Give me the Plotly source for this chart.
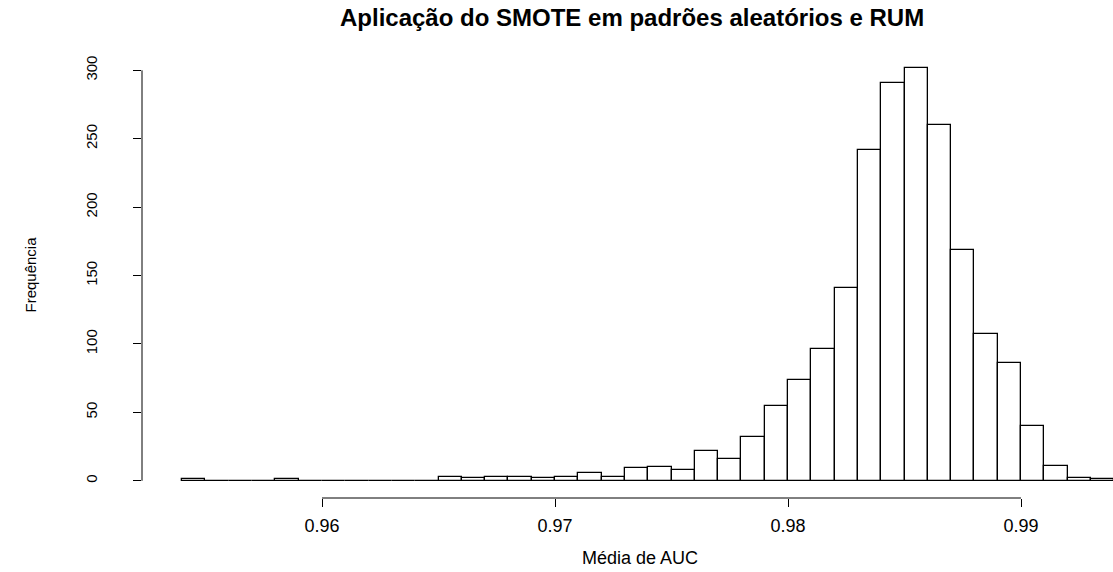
import plotly.graph_objects as go

# ---- data ----
bin_left = [0.954, 0.955, 0.956, 0.957, 0.958, 0.959, 0.960, 0.961, 0.962, 0.963,
            0.964, 0.965, 0.966, 0.967, 0.968, 0.969, 0.970, 0.971, 0.972, 0.973,
            0.974, 0.975, 0.976, 0.977, 0.978, 0.979, 0.980, 0.981, 0.982, 0.983,
            0.984, 0.985, 0.986, 0.987, 0.988, 0.989, 0.990, 0.991, 0.992, 0.993]
counts = [1, 0, 0, 0, 1, 0, 0, 0, 0, 0,
          0, 3, 2, 3, 3, 2, 3, 6, 3, 9,
          10, 8, 22, 16, 32, 55, 74, 96, 141, 242,
          291, 302, 260, 169, 107, 86, 40, 11, 2, 1]
bin_width = 0.001
x_ticks = [0.96, 0.97, 0.98, 0.99]
x_tick_text = ["0.96", "0.97", "0.98", "0.99"]
y_ticks = [0, 50, 100, 150, 200, 250, 300]
y_tick_text = ["0", "50", "100", "150", "200", "250", "300"]

title_text = "<b>Aplicação do SMOTE em padrões aleatórios e RUM</b>"
x_title = "Média de AUC"
y_title = "Frequência"

FONT = "Liberation Sans, Arial, Helvetica, sans-serif"

centers = [b + bin_width / 2 for b in bin_left]

fig = go.Figure()
fig.add_trace(go.Bar(
    x=centers, y=counts, width=[bin_width] * len(centers),
    marker=dict(color="white", line=dict(color="black", width=1.3)),
    hoverinfo="x+y", showlegend=False,
))

W, H = 1113, 572
L, R, T, B = 142, 0, 51, 74

fig.update_layout(
    width=W, height=H,
    margin=dict(l=L, r=R, t=T, b=B, pad=0),
    paper_bgcolor="white", plot_bgcolor="white",
    bargap=0,
    font=dict(family=FONT, color="black", size=15),
    xaxis=dict(
        range=[0.952275, 0.993948], showgrid=False, zeroline=False, showline=False,
        tickmode="array", tickvals=x_ticks, ticktext=x_tick_text,
        ticks="outside", ticklen=8, tickwidth=1, tickcolor="black",
        tickfont=dict(size=18, family=FONT), ticklabelstandoff=3,
    ),
    yaxis=dict(
        range=[-12.59, 314.12], showgrid=False, zeroline=False, showline=False,
        tickmode="array", tickvals=y_ticks, ticktext=y_tick_text,
        ticks="outside", ticklen=8, tickwidth=1, tickcolor="black",
        tickangle=-90, tickfont=dict(size=15, family=FONT), ticklabelstandoff=30,
    ),
)

# axis lines spanning only first to last tick, as in R base graphics
fig.add_shape(type="line", xref="x", yref="paper", x0=x_ticks[0], x1=x_ticks[-1],
              y0=0, y1=0, line=dict(color="black", width=1))
fig.add_shape(type="line", xref="paper", yref="y", x0=0, x1=0,
              y0=y_ticks[0], y1=y_ticks[-1], line=dict(color="black", width=1))

plot_w = W - L - R
fig.add_annotation(text=title_text, xref="paper", yref="paper",
                   x=(632 - L) / plot_w, y=1, yshift=34, yanchor="middle",
                   showarrow=False, font=dict(size=24, family=FONT, color="black"))
fig.add_annotation(text=x_title, xref="paper", yref="paper",
                   x=(640 - L) / plot_w, y=0, yshift=-(558 - (H - B)), yanchor="middle",
                   showarrow=False, font=dict(size=18, family=FONT, color="black"))
fig.add_annotation(text=y_title, xref="paper", yref="paper",
                   x=0, xshift=-(L - 30), y=0.5, textangle=-90, xanchor="center",
                   showarrow=False, font=dict(size=15, family=FONT, color="black"))

fig.write_html("out.html")
